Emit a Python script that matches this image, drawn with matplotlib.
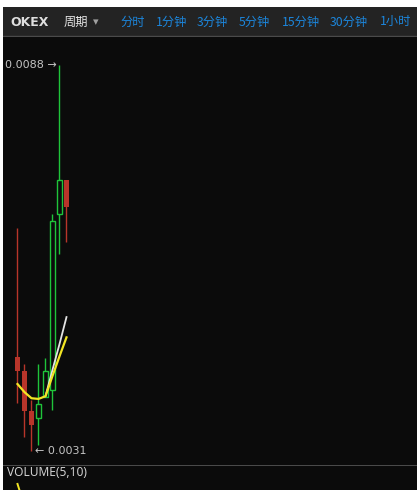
#!/usr/bin/env python3
# OKEX candlestick screenshot, dark theme
import matplotlib
matplotlib.use("Agg")
import matplotlib.pyplot as plt

plt.rcParams['font.family'] = ['Noto Sans CJK SC', 'DejaVu Sans']

# candle data (price)
opens = [0.00449, 0.00428, 0.00369, 0.00359, 0.00390, 0.00400, 0.00661, 0.00710]
highs = [0.00639, 0.00439, 0.00385, 0.00439, 0.00447, 0.00660, 0.00880, 0.00710]
lows = [0.00381, 0.00331, 0.00310, 0.00319, 0.00390, 0.00371, 0.00601, 0.00619]
closes = [0.00428, 0.00369, 0.00348, 0.00379, 0.00428, 0.00650, 0.00710, 0.00670]
ma5 = [0.00409, 0.00397, 0.00388, 0.00387, 0.00391, 0.00421, 0.00450, 0.00478]
ma10 = [None, None, None, None, 0.00391, 0.00430, 0.00468, 0.00508]
vol_ma5 = [855, 677]

tabs = ['分时', '1分钟', '3分钟', '5分钟', '15分钟', '30分钟', '1小时']
tab_x = [120, 156, 197, 239, 282, 330, 380]

W, H = 417, 490
BG = '#0b0b0b'
RED = '#b8352a'
GREEN = '#1fc43a'

fig = plt.figure(figsize=(W / 100, H / 100), dpi=100, facecolor='white')


def px_axes(x0, y0, x1, y1, color=BG):
    a = fig.add_axes([x0 / W, 1 - y1 / H, (x1 - x0) / W, (y1 - y0) / H])
    a.set_facecolor(color)
    for s in a.spines.values():
        s.set_visible(False)
    a.set_xticks([])
    a.set_yticks([])
    return a


# header bar
hd = px_axes(3, 7, W, 37, '#232323')
hd.set_xlim(3, W)
hd.set_ylim(37, 7)
hd.axhspan(35.8, 37.5, color='#4a4a4a')
hd.text(10, 22, 'OKEX', color='#dedede', fontsize=9, fontweight='bold',
        va='center', family=['DejaVu Sans'])
hd.text(64, 22, '周期', color='#e6e6e6', fontsize=8.8, va='center')
hd.text(93, 22, '▾', color='#a0a0a0', fontsize=8, va='center', family=['DejaVu Sans'])
for t, x in zip(tabs, tab_x):
    hd.text(x, 22, t, color='#1c86dc', fontsize=8.8, va='center')

# main price panel
ax = px_axes(3, 37.5, W, 465)
ax.set_xlim(-2.07, 57.07)
ax.set_ylim(0.002893, 0.009213)

w = 0.68
for i, (o, h, l, c) in enumerate(zip(opens, highs, lows, closes)):
    top, bot = max(o, c), min(o, c)
    if c < o:
        ax.vlines(i, l, h, color=RED, lw=1.0, zorder=2)
        ax.bar(i, top - bot, w, bottom=bot, color=RED, lw=0, zorder=3)
    else:
        if h > top:
            ax.vlines(i, top, h, color=GREEN, lw=1.0, zorder=2)
        if l < bot:
            ax.vlines(i, l, bot, color=GREEN, lw=1.0, zorder=2)
        ax.bar(i, top - bot, w, bottom=bot, facecolor='none', edgecolor=GREEN,
               lw=1.0, zorder=3)

xs = list(range(len(ma5)))
m10 = [(x, v) for x, v in zip(xs, ma10) if v is not None]
ax.plot([p[0] for p in m10], [p[1] for p in m10], color='#e4e4e4', lw=1.3, zorder=4)
ax.plot(xs, ma5, color='#f2e524', lw=1.6, zorder=5)

# max / min labels
imax = highs.index(max(highs))
imin = lows.index(min(lows))
ax.text(imax - 0.45, max(highs), '%.4f →' % max(highs), color='#c4c4c4',
        fontsize=8, ha='right', va='center', family=['DejaVu Sans'])
ax.text(imin + 0.45, min(lows), '← %.4f' % min(lows), color='#c4c4c4',
        fontsize=8, ha='left', va='center', family=['DejaVu Sans'])

# separator + volume panel
px_axes(3, 464.5, W, 466, '#4a4a4a')

vol = px_axes(3, 466, W, H)
vol.set_xlim(-2.07, 57.07)
vol.set_ylim(806, 1000)
vol.text(0.01, 0.72, 'VOLUME(5,10)', transform=vol.transAxes, color='#cfcfcf',
         fontsize=8.6, va='center', family=['Noto Sans'])
vol.plot(range(len(vol_ma5)), vol_ma5, color='#f2e524', lw=1.4)

fig.savefig('out.png', dpi=100, facecolor=fig.get_facecolor())
